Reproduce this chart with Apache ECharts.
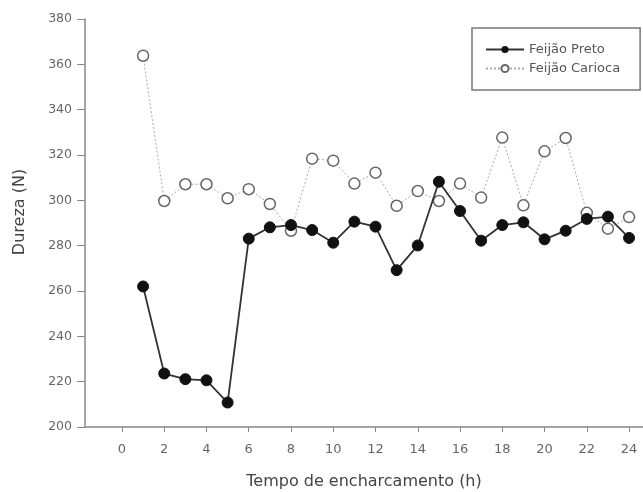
<!DOCTYPE html>
<html>
<head>
<meta charset="utf-8" />
<title>Dureza</title>
<script src="https://cdn.jsdelivr.net/npm/echarts@6.0.0/dist/echarts.min.js"></script>
<style>
  body { margin: 0; background: #fff; }
  #main { width: 643px; height: 492px; }
</style>
</head>
<body>
<div id="main"></div>
<script type="text/javascript">
// hours of soaking
var hours = [1, 2, 3, 4, 5, 6, 7, 8, 9, 10, 11, 12, 13, 14, 15, 16, 17, 18, 19, 20, 21, 22, 23, 24];
var preto = [262, 223.6, 221.1, 220.6, 210.8, 283.1, 288.1, 289.1, 286.9, 281.3, 290.6, 288.4,
             269.2, 280.1, 308.2, 295.3, 282.2, 289.1, 290.3, 282.8, 286.6, 291.8, 292.8, 283.4];
var carioca = [363.8, 299.7, 307.1, 307.1, 300.9, 304.9, 298.4, 286.6, 318.4, 317.5, 307.4, 312.2,
               297.6, 304.1, 299.7, 307.4, 301.2, 327.7, 297.8, 321.6, 327.5, 294.5, 287.5, 292.6];
var xTicks = [0, 2, 4, 6, 8, 10, 12, 14, 16, 18, 20, 22, 24];

function pairs(xs, ys) {
  return xs.map(function (x, i) { return [x, ys[i]]; });
}

var chart = echarts.init(document.getElementById('main'));
var font = 'DejaVu Sans, sans-serif';

var option = {
  animation: false,
  grid: { left: 85, right: 0, top: 19, bottom: 65, outerBoundsMode: 'none' },
  legend: {
    orient: 'vertical',
    left: 472,
    top: 28,
    padding: [15, 20, 15, 13],
    itemGap: 6,
    itemWidth: 38,
    itemHeight: 9,
    borderColor: '#777',
    borderWidth: 1.5,
    textStyle: { fontFamily: font, fontSize: 13, color: '#555' },
    data: ['Feijão Preto', 'Feijão Carioca']
  },
  xAxis: {
    type: 'value',
    min: -1.75,
    max: 24.66,
    name: 'Tempo de encharcamento (h)',
    nameLocation: 'middle',
    nameGap: 47,
    nameTextStyle: { fontFamily: font, fontSize: 16, color: '#444' },
    axisLine: { onZero: false, lineStyle: { color: '#888', width: 1.5 } },
    axisTick: { customValues: xTicks, length: 5, lineStyle: { color: '#888' } },
    axisLabel: { customValues: xTicks, margin: 16, fontFamily: font, fontSize: 13, color: '#666' },
    splitLine: { show: false }
  },
  yAxis: {
    type: 'value',
    min: 200,
    max: 380,
    interval: 20,
    name: 'Dureza (N)',
    nameLocation: 'middle',
    nameGap: 57,
    nameTextStyle: { fontFamily: font, fontSize: 16, color: '#444', padding: [0, 0, 0, 22] },
    axisLine: { show: true, onZero: false, lineStyle: { color: '#888', width: 1.5 } },
    axisTick: { show: true, length: 8, lineStyle: { color: '#888' } },
    axisLabel: { margin: 13, fontFamily: font, fontSize: 12.5, color: '#666' },
    splitLine: { show: false }
  },
  series: [
    {
      name: 'Feijão Preto',
      type: 'line',
      data: pairs(hours, preto),
      symbol: 'circle',
      symbolSize: 11,
      itemStyle: { color: '#111', borderColor: '#111' },
      lineStyle: { color: '#333', width: 1.8 },
      z: 3
    },
    {
      name: 'Feijão Carioca',
      type: 'line',
      data: pairs(hours, carioca),
      symbol: 'circle',
      symbolSize: 11,
      itemStyle: { color: '#fff', borderColor: '#666', borderWidth: 1.5 },
      lineStyle: { color: '#aaa', width: 1, type: [2, 2] },
      z: 2
    }
  ]
};

chart.setOption(option);
</script>
</body>
</html>
